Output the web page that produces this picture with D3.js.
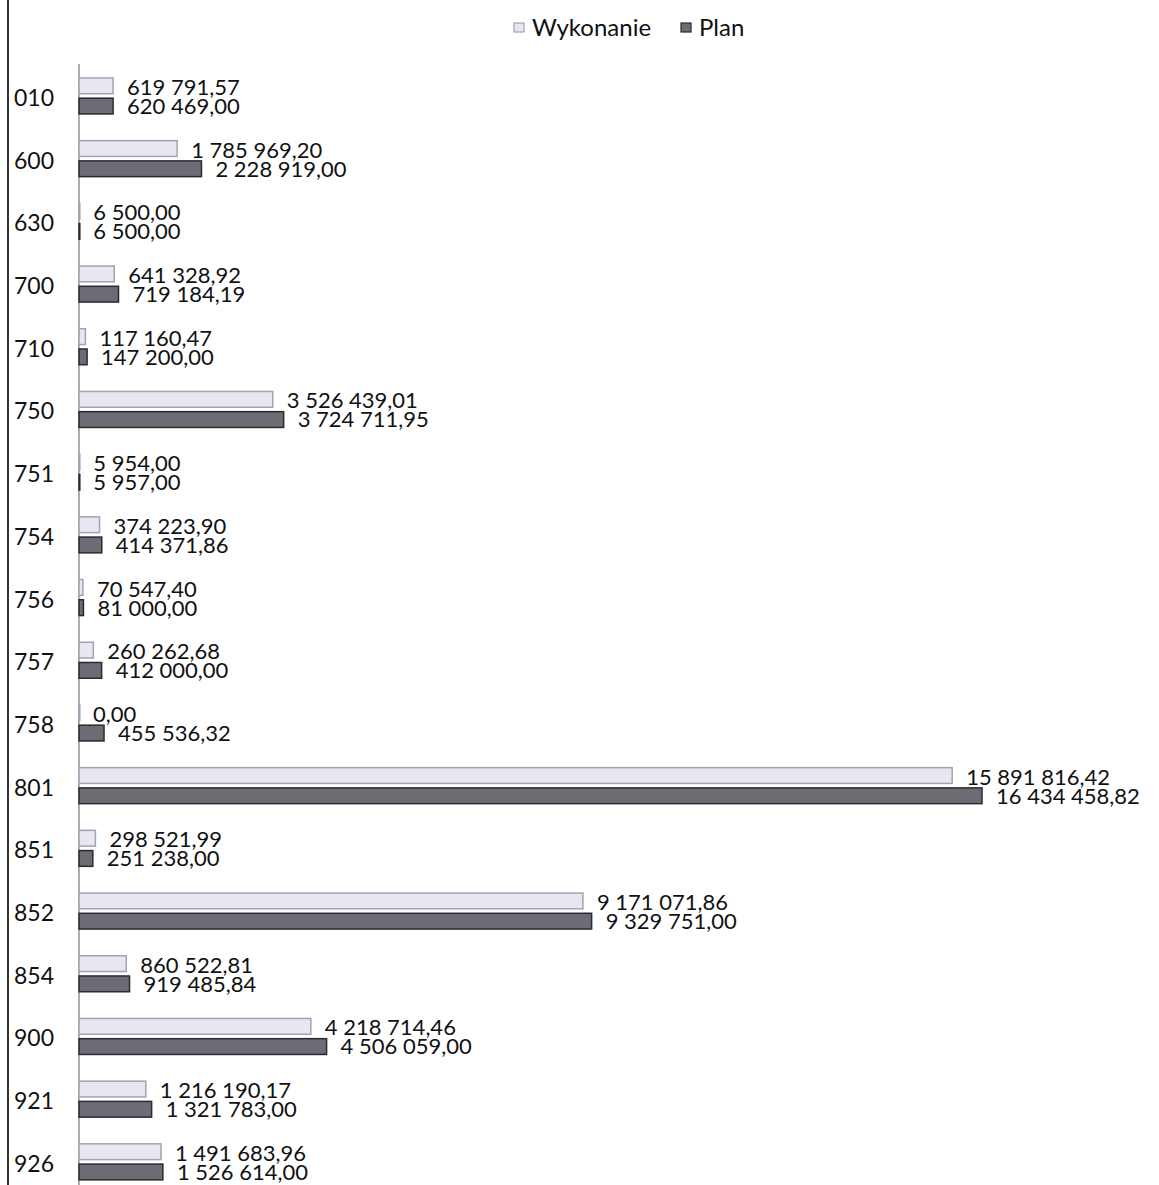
<!DOCTYPE html>
<html>
<head>
<meta charset="utf-8">
<script src="https://cdn.jsdelivr.net/npm/d3@7"></script>
<style>
  body { margin: 0; background: #fff; }
  svg text { font-family: Lato, "Open Sans", sans-serif; fill: #111; }
</style>
</head>
<body>
<svg id="chart" width="1159" height="1185"></svg>
<script>
var categories = ["010","600","630","700","710","750","751","754","756","757","758","801","851","852","854","900","921","926"];
var wykonanie = [619791.57, 1785969.20, 6500.00, 641328.92, 117160.47, 3526439.01, 5954.00, 374223.90, 70547.40, 260262.68, 0.00, 15891816.42, 298521.99, 9171071.86, 860522.81, 4218714.46, 1216190.17, 1491683.96];
var plan = [620469.00, 2228919.00, 6500.00, 719184.19, 147200.00, 3724711.95, 5957.00, 414371.86, 81000.00, 412000.00, 455536.32, 16434458.82, 251238.00, 9329751.00, 919485.84, 4506059.00, 1321783.00, 1526614.00];
var seriesNames = ["Wykonanie", "Plan"];

var svg = d3.select("#chart");

var x = d3.scaleLinear().domain([0, 16434458.82]).range([79, 982]);
var y = d3.scaleBand().domain(categories).range([65.6, 1194.2]).padding(0);
var inner = d3.scaleBand().domain(seriesNames).range([-19, 17]).paddingInner(0.22);

var styles = {
  Wykonanie: { fill: "#e7e7f1", stroke: "#a2a2b4" },
  Plan: { fill: "#6c6c74", stroke: "#2a2a30" }
};

// polish number format: "1 785 969,20"
function fmt(v) {
  var s = v.toFixed(2).split(".");
  return s[0].replace(/\B(?=(\d{3})+(?!\d))/g, " ") + "," + s[1];
}

// outer border + axis line
svg.append("line").attr("x1", 8).attr("x2", 8).attr("y1", 0).attr("y2", 1185)
  .attr("stroke", "#333").attr("stroke-width", 2);
svg.append("line").attr("x1", 79).attr("x2", 79).attr("y1", 64).attr("y2", 1185)
  .attr("stroke", "#777").attr("stroke-width", 1.2);

// category labels
svg.selectAll(".cat").data(categories).enter().append("text")
  .attr("class", "cat")
  .attr("x", 14)
  .attr("y", function (d) { return y(d) + y.bandwidth() / 2 + 9; })
  .style("font-size", "23px")
  .text(function (d) { return d; });

var rows = [];
categories.forEach(function (c, i) {
  rows.push({ cat: c, s: "Wykonanie", v: wykonanie[i] });
  rows.push({ cat: c, s: "Plan", v: plan[i] });
});

function barY(d) { return y(d.cat) + y.bandwidth() / 2 + inner(d.s); }
var labelOffset = { Wykonanie: -9, Plan: 10 };

svg.selectAll(".bar").data(rows).enter().append("rect")
  .attr("class", "bar")
  .attr("x", x(0))
  .attr("y", barY)
  .attr("width", function (d) { return Math.max(x(d.v) - x(0), 0.8); })
  .attr("height", inner.bandwidth())
  .attr("fill", function (d) { return styles[d.s].fill; })
  .attr("stroke", function (d) { return styles[d.s].stroke; })
  .attr("stroke-width", 1.5);

svg.selectAll(".lbl").data(rows).enter().append("text")
  .attr("class", "lbl")
  .attr("x", function (d) { return x(d.v) + 14; })
  .attr("y", function (d) { return y(d.cat) + y.bandwidth() / 2 - 1 + labelOffset[d.s] + 8; })
  .style("font-size", "22px")
  .text(function (d) { return fmt(d.v); });

// legend
var legend = svg.append("g");
var legendX = [514, 681];
seriesNames.forEach(function (s, i) {
  legend.append("rect").attr("x", legendX[i]).attr("y", 23).attr("width", 10).attr("height", 9)
    .attr("fill", styles[s].fill).attr("stroke", styles[s].stroke).attr("stroke-width", 1.2);
  legend.append("text").attr("x", legendX[i] + 18).attr("y", 36)
    .style("font-size", "24px").text(s);
});
</script>
</body>
</html>
